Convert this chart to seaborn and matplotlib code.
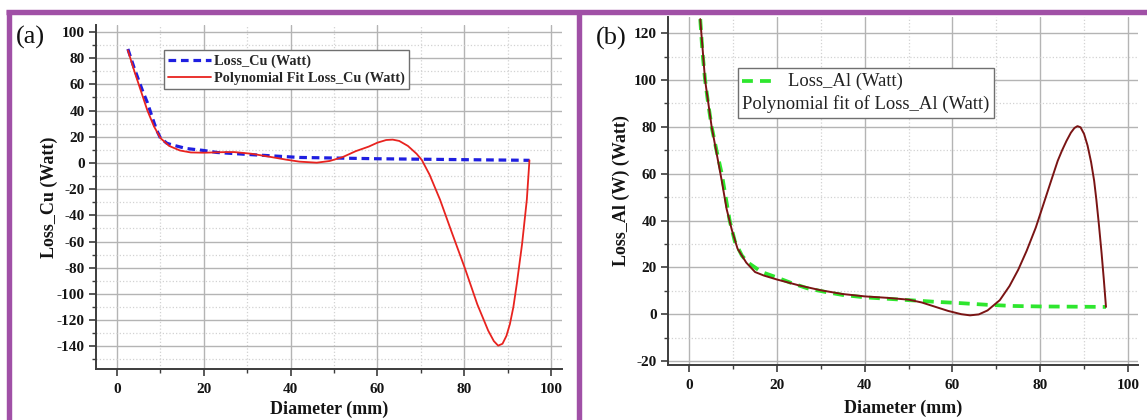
import matplotlib
matplotlib.use("Agg")
import matplotlib.pyplot as plt
from matplotlib.ticker import MultipleLocator
from matplotlib.lines import Line2D
from matplotlib.offsetbox import AnchoredOffsetbox, DrawingArea, TextArea, HPacker, VPacker
import pandas as pd
import seaborn as sns

# ---- Copper conductor losses (panel a) ----
cu_diam = [2.5, 4, 5, 6, 7, 8, 9, 10, 11.5, 13, 16, 20, 23, 30, 42, 60, 80, 95]
cu_loss = [87, 72, 63, 54, 46, 36, 26, 19, 15, 13.5, 11, 9.5, 8, 6.5, 4.2, 3.2, 2.5, 2]

cu_fit_diam = [2.5, 4, 5.5, 7, 8.5, 10, 12, 14.5, 17, 20, 24, 27, 31, 35, 39, 42, 46,
               49, 52, 55, 58, 60, 62, 63.5, 65, 67, 69, 70.2, 72, 74.4, 77, 80.2,
               83, 85.5, 86.8, 87.8, 88.8, 89.7, 90.5, 91.3, 92.1, 93.3, 94.4, 95]
cu_fit_loss = [86, 70, 55, 40, 28, 19, 13, 9.5, 8, 7.8, 8.2, 8.3, 7, 4.8, 2.5, 1, 0.2,
               1.5, 4.5, 9, 12.5, 15.5, 17.5, 17.8, 16.8, 13, 7, 2.3, -9, -28, -52, -81,
               -108, -128, -136, -139.5, -138, -132, -123, -110, -92, -62, -28, 2]

# ---- Aluminium conductor losses (panel b) ----
al_diam = [2.5, 3, 3.6, 4.3, 5.1, 6.2, 7.4, 8.3, 9.2, 10.4, 12, 13.4, 16.5, 19.5, 23,
           27, 31, 35, 40, 45, 50, 56, 62, 68, 74, 80, 88, 95]
al_loss = [126, 112, 100, 90, 80, 70, 60, 50, 40, 31, 25, 22, 18, 16, 13.5,
           11, 9.5, 8.2, 7.2, 6.6, 6, 5.3, 4.7, 4, 3.5, 3.3, 3.2, 3.1]

al_fit_diam = [2.5, 3.6, 5.1, 7.4, 8.5, 9.7, 11, 13, 15, 17, 20, 25, 30, 35, 40, 45,
               50, 53, 56, 59, 62, 64, 66, 68, 70.8, 73, 75, 76.9, 79, 80.3, 82.5,
               84, 85, 86, 87, 87.8, 88.5, 89.2, 90, 90.8, 91.6, 92.3, 92.8, 93.4,
               94, 94.5, 95]
al_fit_loss = [126, 100, 80, 57, 45, 36, 28, 22, 18, 16.5, 14.8, 12.3, 10.2, 8.6, 7.6, 7,
               6.2, 5, 3.2, 1.4, 0, -0.5, -0.1, 1.6, 6, 12, 19, 27, 37, 44.4, 57,
               65.5, 70, 74, 77.5, 79.5, 80.3, 79.8, 77, 72, 65, 57, 49, 38,
               26, 15, 3.1]

cu_ticks_y = list(range(-140, 101, 20))
al_ticks_y = list(range(-20, 121, 20))
x_ticks = list(range(0, 101, 20))

sns.set_theme(style="whitegrid")
plt.rcParams["font.family"] = ["Liberation Serif", "DejaVu Serif"]
plt.rcParams["font.weight"] = "bold"
plt.rcParams["axes.labelweight"] = "bold"
plt.rcParams["axes.unicode_minus"] = False

W, H = 1147, 420
fig = plt.figure(figsize=(W / 100, H / 100), dpi=100, facecolor="white")


def box(x0, x1, ytop, ybot):
    return [x0 / W, 1 - ybot / H, (x1 - x0) / W, (ybot - ytop) / H]


ax1 = fig.add_axes(box(96, 562, 25, 369))
ax2 = fig.add_axes(box(667.7, 1138, 17, 365))

spine_col = "#3c3c3c"


def style_axis(ax, yticks, xlim, ylim):
    ax.set_facecolor("white")
    ax.set_xlim(*xlim)
    ax.set_ylim(*ylim)
    ax.set_xticks(x_ticks)
    ax.set_yticks(yticks)
    ax.xaxis.set_minor_locator(MultipleLocator(10))
    ax.yaxis.set_minor_locator(MultipleLocator(10))
    ax.grid(which="major", color="#b4b4b4", lw=1.0, ls="-")
    ax.grid(which="minor", color="#d2d2d2", lw=0.9, ls=":")
    for s in ("top", "right"):
        ax.spines[s].set_visible(False)
    for s in ("left", "bottom"):
        ax.spines[s].set_visible(True)
        ax.spines[s].set_color(spine_col)
        ax.spines[s].set_linewidth(1.4)
    ax.tick_params(which="major", direction="out", length=5, width=1.2,
                   color=spine_col, bottom=True, left=True, labelsize=11,
                   labelcolor="#141414", pad=3)
    ax.tick_params(axis="x", which="major", pad=5)
    ax.tick_params(which="minor", direction="out", length=3, width=1.0,
                   color=spine_col, bottom=True, left=True)
    for lab in ax.get_xticklabels() + ax.get_yticklabels():
        lab.set_fontweight("bold")


# Panel (a)
df_cu = pd.DataFrame({"Diameter": cu_diam, "Loss": cu_loss})
df_cu_fit = pd.DataFrame({"Diameter": cu_fit_diam, "Loss": cu_fit_loss})
sns.lineplot(data=df_cu, x="Diameter", y="Loss", ax=ax1, sort=False, estimator=None,
             color="#1f1fe0", lw=2.3, linestyle=(0, (2.4, 1.5)),
             label="Loss_Cu (Watt)", zorder=3)
sns.lineplot(data=df_cu_fit, x="Diameter", y="Loss", ax=ax1, sort=False, estimator=None,
             color="#e8231f", lw=1.3, label="Polynomial Fit Loss_Cu (Watt)", zorder=4)
style_axis(ax1, cu_ticks_y, (-4.84, 102.5), (-157.3, 105.3))
ax1.set_xlabel("Diameter (mm)", fontsize=13, fontweight="bold", color="#141414")
ax1.set_ylabel("Loss_Cu (Watt)", fontsize=13, fontweight="bold", color="#141414")
ax1.xaxis.set_label_coords(0.5, -0.093)
ax1.yaxis.set_label_coords(-0.082, 0.5)
leg = ax1.legend(loc="upper left", bbox_to_anchor=(0.146, 0.927), frameon=True,
                 fancybox=False, shadow=False, framealpha=1, borderpad=0.3,
                 labelspacing=0.25, handlelength=3.0, handletextpad=0.2,
                 borderaxespad=0, prop={"family": "Liberation Serif", "weight": "bold", "size": 10.3})
leg.get_frame().set_edgecolor("#707070")
leg.get_frame().set_linewidth(1.0)

# Panel (b)
df_al = pd.DataFrame({"Diameter": al_diam, "Loss": al_loss})
df_al_fit = pd.DataFrame({"Diameter": al_fit_diam, "Loss": al_fit_loss})
sns.lineplot(data=df_al, x="Diameter", y="Loss", ax=ax2, sort=False, estimator=None,
             color="#2ee62e", lw=2.7, linestyle=(0, (2.9, 1.9)), zorder=3, legend=False)
sns.lineplot(data=df_al_fit, x="Diameter", y="Loss", ax=ax2, sort=False, estimator=None,
             color="#7a1414", lw=1.4, zorder=4, legend=False)
style_axis(ax2, al_ticks_y, (-4.92, 102.3), (-21.7, 126.9))
ax2.set_xlabel("Diameter (mm)", fontsize=13, fontweight="bold", color="#141414")
ax2.set_ylabel("Loss_Al (W) (Watt)", fontsize=13, fontweight="bold", color="#141414")
ax2.xaxis.set_label_coords(0.5, -0.1)
ax2.yaxis.set_label_coords(-0.08, 0.5)

# Legend box of panel (b): the fit entry is listed without a line sample
leg_font = {"family": "Liberation Serif", "weight": "normal", "size": 13.4, "color": "#222222"}
sample = DrawingArea(21, 8, 0, 0)
sample.add_artist(Line2D([0, 21], [4, 4], color="#2ee62e", lw=2.7,
                         linestyle=(0, (2.9, 1.9))))
row1 = HPacker(children=[sample, TextArea("Loss_Al (Watt)", textprops=leg_font)],
               align="center", pad=0, sep=12)
row2 = TextArea("Polynomial fit of Loss_Al (Watt)", textprops=leg_font)
rows = VPacker(children=[row1, row2], align="left", pad=0, sep=4)
anch = AnchoredOffsetbox(loc="upper left", child=rows, pad=0.28, borderpad=0,
                         bbox_to_anchor=(0.149, 0.853), bbox_transform=ax2.transAxes,
                         frameon=True)
anch.patch.set_edgecolor("#707070")
anch.patch.set_linewidth(1.0)
anch.patch.set_facecolor("white")
anch.set_zorder(6)
ax2.add_artist(anch)

# Panel tags
fig.text(16 / W, 1 - 37 / H, "(a)", fontsize=19, fontweight="normal",
         va="center", ha="left", color="#111111")
fig.text(596 / W, 1 - 38 / H, "(b)", fontsize=19, fontweight="normal",
         va="center", ha="left", color="#111111")

# Purple panel frames
frame_col = "#a050a6"
for xs, ys in [((6 / W, 1.0), (1 - 12 / H, 1 - 12 / H)),
               ((8.5 / W, 8.5 / W), (0, 1 - 9.5 / H)),
               ((579 / W, 579 / W), (0, 1 - 9.5 / H))]:
    fig.add_artist(Line2D(xs, ys, transform=fig.transFigure, color=frame_col,
                          lw=3.9, solid_capstyle="butt"))

fig.savefig("out.png", dpi=100, facecolor="white")
